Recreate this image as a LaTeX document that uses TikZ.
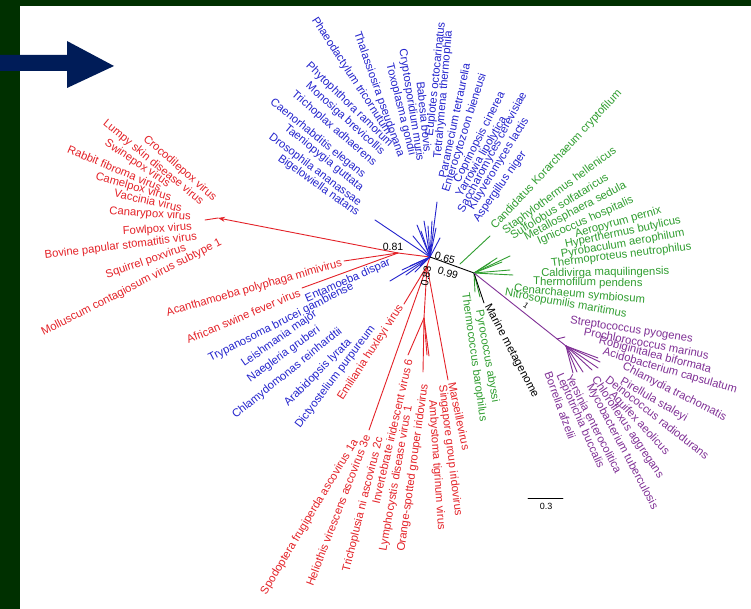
\documentclass[tikz,border=0pt]{standalone}
\usepackage{fontspec}
\setmainfont{Liberation Sans}
\usepackage{xcolor}
\usetikzlibrary{arrows.meta}

\definecolor{virred}{RGB}{228,34,40}
\definecolor{eukblue}{RGB}{36,36,205}
\definecolor{arcgreen}{RGB}{48,158,48}
\definecolor{bacpurple}{RGB}{128,48,150}
\definecolor{framegreen}{RGB}{0,48,0}
\definecolor{navyarrow}{RGB}{0,28,88}

\begin{document}
\begin{tikzpicture}[x=1pt,y=-1pt,line cap=round,line join=round,
  taxon/.style={font=\fontsize{11.3}{13}\selectfont,inner sep=0pt},
  support/.style={font=\fontsize{10.5}{12}\selectfont,inner sep=0pt,black},
  br/.style={line width=0.9pt}]
% page, frame strips and pointer
\useasboundingbox (0,0) rectangle (751,609);
\fill[white] (0,0) rectangle (751,609);
\fill[framegreen] (0,0) rectangle (20,609);
\fill[framegreen] (0,0) rectangle (751,6);
\fill[navyarrow] (0,55) -- (67,55) -- (67,41) -- (114,66) -- (67,88) -- (67,71) -- (0,71) -- cycle;

% inner nodes
\coordinate (hub) at (430,257);
\coordinate (virnode) at (398,253);
\coordinate (ncldv) at (427,266);
\coordinate (irido) at (424,318);
\coordinate (korabase) at (460,264);
\coordinate (arcnode) at (474,273);
\coordinate (bacnode) at (566,346);

% tips
\coordinate (poxarrow) at (218,218);
\coordinate (poxend) at (205,220);
\coordinate (mimi) at (344,261);
\coordinate (asfv) at (302,288);
\coordinate (ehv) at (404,304);
\coordinate (asco) at (369,430);
\coordinate (iiv) at (408,355);
\coordinate (lcdv) at (423,372);
\coordinate (osgiv) at (427,355);
\coordinate (atv) at (429,356);
\coordinate (marseille) at (448,380);

\coordinate (bigelo) at (375,220);
\coordinate (ciliate) at (437,202);
\coordinate (eu1) at (413,236);
\coordinate (eu2) at (417,225);
\coordinate (eu3) at (421,231);
\coordinate (eu4) at (424,221);
\coordinate (eu5) at (428,226);
\coordinate (eu6) at (432,221);
\coordinate (eu7) at (436,228);
\coordinate (eu8) at (440,238);
\coordinate (entam) at (390,281);
\coordinate (ex1) at (402,270);
\coordinate (ex2) at (406,275);
\coordinate (ex3) at (410,266);
\coordinate (ex4) at (415,272);
\coordinate (ex5) at (420,266);

\coordinate (kora) at (490,236);
\coordinate (cren1) at (497,258);
\coordinate (cren2) at (502,262);
\coordinate (cren3) at (510,256);
\coordinate (cren4) at (510,270);
\coordinate (cren5) at (513,275);
\coordinate (cren6) at (490,263);
\coordinate (pyro) at (480,297);
\coordinate (thermo) at (475,292);
\coordinate (marine) at (484,303);

\coordinate (bt1) at (598,358);
\coordinate (bt2) at (600,362);
\coordinate (bt3) at (598,368);
\coordinate (bt4) at (592,370);
\coordinate (bt5) at (583,372);
\coordinate (bt6) at (577,372);
\coordinate (bt7) at (573,373);
\coordinate (bside1) at (557,339);
\coordinate (bside2) at (565,337);

% viruses
\draw[br,virred] (hub) -- (virnode);
\draw[br,virred,-{Stealth[length=7pt,width=5pt]}] (virnode) -- (poxarrow);
\draw[br,virred] (poxarrow) -- (poxend);
\draw[br,virred] (virnode) -- (mimi);
\draw[br,virred] (virnode) -- (asfv);
\draw[br,virred] (hub) -- (ncldv);
\draw[br,virred] (ncldv) -- (ehv);
\draw[br,virred] (ncldv) -- (asco);
\draw[br,virred] (ncldv) -- (irido);
\draw[br,virred] (irido) -- (iiv);
\draw[br,virred] (irido) -- (lcdv);
\draw[br,virred] (irido) -- (osgiv);
\draw[br,virred] (irido) -- (atv);
\draw[br,virred] (ncldv) -- (marseille);

% eukaryotes
\foreach \t in {bigelo,ciliate,eu1,eu2,eu3,eu4,eu5,eu6,eu7,eu8,entam,ex1,ex2,ex3,ex4,ex5}
  \draw[br,eukblue] (hub) -- (\t);

% archaea
\draw[br,black] (hub) -- (arcnode);
\draw[br,arcgreen] (korabase) -- (kora);
\foreach \t in {cren1,cren2,cren3,cren4,cren5,cren6,pyro,thermo}
  \draw[br,arcgreen] (arcnode) -- (\t);
\draw[br,black] (arcnode) -- (marine);

% bacteria
\draw[br,bacpurple] (arcnode) -- (bacnode);
\foreach \t in {bt1,bt2,bt3,bt4,bt5,bt6,bt7}
  \draw[br,bacpurple] (bacnode) -- (\t);
\draw[br,bacpurple] (bside1) -- (bside2);

% support values
\node[support] (s081) at (393,247) {0.81};
\node[support,rotate=-16] (s065) at (445,258) {0.65};
\node[support,rotate=-16] (s099) at (448,273) {0.99};
\node[support,rotate=80] (s083) at (426,276) {0.83};
\node[support,rotate=-35,font=\fontsize{8}{9}\selectfont] (s1) at (526,306) {1};

% scale bar
\coordinate (barl) at (528,498);
\coordinate (barr) at (563,498);
\draw[line width=0.8pt] (barl) -- (barr);
\node[support,font=\fontsize{9}{10}\selectfont] (barlabel) at (546,506) {0.3};

% poxviruses
\node[taxon,virred,anchor=east,rotate=-41] (crocpox) at (215,199) {Crocodilepox virus};
\node[taxon,virred,anchor=east,rotate=-39.5] (lumpy) at (202,203) {Lumpy skin disease virus};
\node[taxon,virred,anchor=east,rotate=-34] (swinepox) at (169,185) {Swinepox virus};
\node[taxon,virred,anchor=east,rotate=-23] (rabbitfib) at (161,188) {Rabbit fibroma virus};
\node[taxon,virred,anchor=east,rotate=-16] (camelpox) at (171,198) {Camelpox virus};
\node[taxon,virred,anchor=east,rotate=-12.5] (vaccinia) at (182,208) {Vaccinia virus};
\node[taxon,virred,anchor=east,rotate=-4] (canarypox) at (191,217) {Canarypox virus};
\node[taxon,virred,anchor=east,rotate=4] (fowlpox) at (192,227) {Fowlpox virus};
\node[taxon,virred,anchor=east,rotate=7] (bovine) at (197,237) {Bovine papular stomatitis virus};
\node[taxon,virred,anchor=east,rotate=19] (squirrel) at (186,248) {Squirrel poxvirus};
\node[taxon,virred,anchor=east,rotate=27] (molluscum) at (221,242) {Molluscum contagiosum virus subtype 1};

% other large DNA viruses
\node[taxon,virred,anchor=east,rotate=16] (mimilab) at (342,263) {Acanthamoeba polyphaga mimivirus};
\node[taxon,virred,anchor=east,rotate=23] (asfvlab) at (300,292) {African swine fever virus};
\node[taxon,virred,anchor=east,rotate=57] (ehvlab) at (401,306) {Emiliania huxleyi virus};
\node[taxon,virred,anchor=east,rotate=59] (sfav) at (356,440) {Spodoptera frugiperda ascovirus 1a};
\node[taxon,virred,anchor=east,rotate=69] (hvav) at (367,435) {Heliothis virescens ascovirus 3e};
\node[taxon,virred,anchor=east,rotate=76] (tnav) at (380,437) {Trichoplusia ni ascovirus 2c};
\node[taxon,virred,anchor=east,rotate=77] (iivlab) at (409,359) {Invertebrate iridescent virus 6};
\node[taxon,virred,anchor=east,rotate=80] (lcdvlab) at (409,406) {Lymphocystis disease virus 1};
\node[taxon,virred,anchor=east,rotate=82] (osgivlab) at (425,384) {Orange-spotted grouper iridovirus};
\node[taxon,virred,anchor=west,rotate=-86] (atvlab) at (432,400) {Ambystoma tigrinum virus};
\node[taxon,virred,anchor=west,rotate=-83] (sgiv) at (442,385) {Singapore group iridovirus};
\node[taxon,virred,anchor=west,rotate=-78] (marslab) at (452,382) {Marseillevirus};

% eukaryotes, lower side
\node[taxon,eukblue,anchor=east,rotate=24] (entamlab) at (390,262) {Entamoeba dispar};
\node[taxon,eukblue,anchor=east,rotate=27] (trypano) at (353,286) {Trypanosoma brucei gambiense};
\node[taxon,eukblue,anchor=east,rotate=35] (leish) at (316,313) {Leishmania major};
\node[taxon,eukblue,anchor=east,rotate=36] (naeg) at (319,329) {Naegleria gruberi};
\node[taxon,eukblue,anchor=east,rotate=39] (chlamy) at (341,330) {Chlamydomonas reinhardtii};
\node[taxon,eukblue,anchor=east,rotate=45] (arabid) at (350,341) {Arabidopsis lyrata};
\node[taxon,eukblue,anchor=east,rotate=53] (dicty) at (373,327) {Dictyostelium purpureum};

% eukaryotes, upper side
\node[taxon,eukblue,anchor=east,rotate=-35.5] (bigelolab) at (358,214) {Bigelowiella natans};
\node[taxon,eukblue,anchor=east,rotate=-37] (drosoph) at (360,204) {Drosophila ananassae};
\node[taxon,eukblue,anchor=east,rotate=-39] (taenio) at (362,189) {Taeniopygia guttata};
\node[taxon,eukblue,anchor=east,rotate=-39] (caeno) at (364,176) {Caenorhabditis elegans};
\node[taxon,eukblue,anchor=east,rotate=-41] (trichop) at (375,164) {Trichoplax adhaerens};
\node[taxon,eukblue,anchor=east,rotate=-42] (monosiga) at (383,153) {Monosiga brevicollis};
\node[taxon,eukblue,anchor=east,rotate=-44] (phytoph) at (391,145) {Phytophthora ramorum};
\node[taxon,eukblue,anchor=east,rotate=-57] (phaeo) at (389,134) {Phaeodactylum tricornutum};
\node[taxon,eukblue,anchor=east,rotate=-70.5] (thalass) at (401,157) {Thalassiosira pseudonana};
\node[taxon,eukblue,anchor=east,rotate=-76] (toxo) at (412,155) {Toxoplasma gondii};
\node[taxon,eukblue,anchor=east,rotate=-81] (crypto) at (420,161) {Cryptosporidium muris};
\node[taxon,eukblue,anchor=east,rotate=-84] (babesia) at (428,152) {Babesia bovis};
\node[taxon,eukblue,anchor=west,rotate=84] (euplotes) at (430,136) {Euplotes octocarinatus};
\node[taxon,eukblue,anchor=west,rotate=85] (tetrahy) at (438,158) {Tetrahymena thermophila};
\node[taxon,eukblue,anchor=west,rotate=78] (paramec) at (442,178) {Paramecium tetraurelia};
\node[taxon,eukblue,anchor=west,rotate=72.5] (enteroc) at (446,192) {Enterocytozoon bieneusi};
\node[taxon,eukblue,anchor=west,rotate=63] (coprin) at (457,182) {Coprinopsis cinerea};
\node[taxon,eukblue,anchor=west,rotate=60] (yarrow) at (459,196) {Yarrowia lipolytica};
\node[taxon,eukblue,anchor=west,rotate=62] (sacch) at (461,212) {Saccharomyces cerevisiae};
\node[taxon,eukblue,anchor=west,rotate=58.5] (kluyv) at (471,209) {Kluyveromyces lactis};
\node[taxon,eukblue,anchor=west,rotate=55] (asperg) at (476,221) {Aspergillus niger};

% archaea
\node[taxon,arcgreen,anchor=west,rotate=47] (koralab) at (493,228) {Candidatus Korarchaeum cryptofilum};
\node[taxon,arcgreen,anchor=west,rotate=36.5] (staphy) at (504,232) {Staphylothermus hellenicus};
\node[taxon,arcgreen,anchor=west,rotate=32] (sulfolob) at (511,236) {Sulfolobus solfataricus};
\node[taxon,arcgreen,anchor=west,rotate=28] (metallo) at (525,238) {Metallosphaera sedula};
\node[taxon,arcgreen,anchor=west,rotate=24] (ignico) at (538,242) {Ignicoccus hospitalis};
\node[taxon,arcgreen,anchor=west,rotate=16] (aeropyr) at (575,235) {Aeropyrum pernix};
\node[taxon,arcgreen,anchor=west,rotate=12] (hyperth) at (565,245) {Hyperthermus butylicus};
\node[taxon,arcgreen,anchor=west,rotate=10] (pyrobac) at (561,255) {Pyrobaculum aerophilum};
\node[taxon,arcgreen,anchor=west,rotate=7] (thermop) at (551,264) {Thermoproteus neutrophilus};
\node[taxon,arcgreen,anchor=west,rotate=1] (caldiv) at (541,274) {Caldivirga maquilingensis};
\node[taxon,arcgreen,anchor=west,rotate=-1] (thermof) at (533,282) {Thermofilum pendens};
\node[taxon,arcgreen,anchor=west,rotate=-5] (cenarch) at (514,289) {Cenarchaeum symbiosum};
\node[taxon,arcgreen,anchor=west,rotate=-10] (nitroso) at (505,293) {Nitrosopumilis maritimus};
\node[taxon,arcgreen,anchor=west,rotate=-80] (pyrolab) at (479,310) {Pyrococcus abyssi};
\node[taxon,arcgreen,anchor=west,rotate=-82] (thermolab) at (465,293) {Thermococcus barophilus};
\node[taxon,black,anchor=west,rotate=-62] (marinelab) at (487,305) {Marine metagenome};

% bacteria
\node[taxon,bacpurple,anchor=west,rotate=-8.5] (strepto) at (570,321) {Streptococcus pyogenes};
\node[taxon,bacpurple,anchor=west,rotate=-11] (prochl) at (584,331) {Prochlorococcus marinus};
\node[taxon,bacpurple,anchor=west,rotate=-14.5] (robig) at (599,341) {Robiginitalea biformata};
\node[taxon,bacpurple,anchor=west,rotate=-16] (acido) at (603,352) {Acidobacterium capsulatum};
\node[taxon,bacpurple,anchor=west,rotate=-27] (chlamyd) at (623,366) {Chlamydia trachomatis};
\node[taxon,bacpurple,anchor=west,rotate=-30] (pirell) at (621,381) {Pirellula staleyi};
\node[taxon,bacpurple,anchor=west,rotate=-38] (deino) at (607,378) {Deinococcus radiodurans};
\node[taxon,bacpurple,anchor=west,rotate=-47] (aquifex) at (611,393) {Aquifex aeolicus};
\node[taxon,bacpurple,anchor=west,rotate=-56] (chlorof) at (594,378) {Chloroflexus aggregans};
\node[taxon,bacpurple,anchor=west,rotate=-62] (mycob) at (589,385) {Mycobacterium tuberculosis};
\node[taxon,bacpurple,anchor=west,rotate=-63] (yersin) at (569,375) {Yersinia enterocolitica};
\node[taxon,bacpurple,anchor=west,rotate=-66] (leptot) at (559,374) {Leptotrichia buccalis};
\node[taxon,bacpurple,anchor=west,rotate=-70] (borrel) at (548,372) {Borrelia afzelii};
\end{tikzpicture}
\end{document}
